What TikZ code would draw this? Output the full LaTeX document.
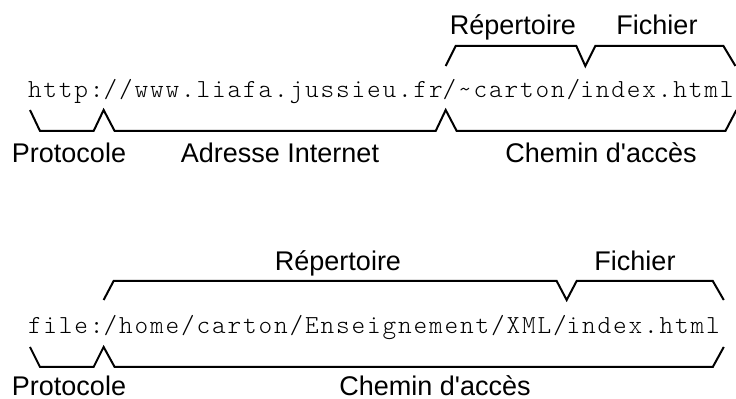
\documentclass[tikz,border=0pt]{standalone}
\usepackage{fontspec}
\setmainfont{Liberation Sans}
\newfontfamily\adrfont{lmmonolt10-regular.otf}[LetterSpace=7.1]
\usetikzlibrary{calc}

\begin{document}
\begin{tikzpicture}[x=0.5pt,y=-0.5pt,
    url/.style={font=\adrfont\fontsize{13}{15}\selectfont, inner sep=0pt, outer sep=0pt, anchor=base west},
    etiq/.style={font=\fontsize{13.5}{16}\selectfont, inner sep=0pt, anchor=base},
    accolade/.style={line width=1pt, line join=miter}]
  \useasboundingbox (0,0) rectangle (736,399);
  % URL http
  \node[url] (proto1) at (28,98)            {http:};
  \node[url] (adr1)   at (proto1.base east) {//www.liafa.jussieu.fr};
  \node[url] (rep1)   at (adr1.base east)   {/\string~carton/};
  \node[url] (fich1)  at (rep1.base east)   {index.html};
  \draw[accolade] ($(proto1.base west)+(2,12)$) -- ++(10,21) -- ($(proto1.base east)+(-10,33)$) -- ++(10,-21)
      -- ++(11,21) -- ($(adr1.base east)+(-7,33)$) -- ++(10,-21)
      -- ++(11,21) -- ($(fich1.base east)+(-8,33)$) -- ++(11,-21);
  \draw[accolade] ($(rep1.base west)+(3,-32)$) -- ++(10,-20) -- ($(rep1.base east)+(-4,-52)$) -- ++(9,20)
      -- ++(10,-20) -- ($(fich1.base east)+(-10,-52)$) -- ++(12,20);
  \node[etiq] (protocole1) at (69,163)  {Protocole};
  \node[etiq] (adresse1)   at (280,163) {Adresse Internet};
  \node[etiq] (chemin1)    at (601,163) {Chemin d\textquotesingle accès};
  \node[etiq] (repertoire1) at (513,35) {Répertoire};
  \node[etiq] (fichier1)   at (657,35)  {Fichier};
  % URL file
  \node[url] (proto2) at (28,334)           {file:};
  \node[url] (rep2)   at (proto2.base east) {/home/carton/Enseignement/XML/};
  \node[url] (fich2)  at (rep2.base east)   {index.html};
  \draw[accolade] ($(proto2.base west)+(2,13)$) -- ++(10,20) -- ($(proto2.base east)+(-10,33)$) -- ++(10,-20)
      -- ++(11,20) -- ($(fich2.base east)+(-7,33)$) -- ++(11,-20);
  \draw[accolade] ($(proto2.base east)+(0,-34)$) -- ++(10,-19) -- ($(rep2.base east)+(-10,-53)$) -- ++(10,19)
      -- ++(10,-19) -- ($(fich2.base east)+(-7,-53)$) -- ++(11,19);
  \node[etiq] (repertoire2) at (338,271) {Répertoire};
  \node[etiq] (fichier2)    at (635,271) {Fichier};
  \node[etiq] (protocole2)  at (69,396)  {Protocole};
  \node[etiq] (chemin2)     at (435,396) {Chemin d\textquotesingle accès};
\end{tikzpicture}
\end{document}
